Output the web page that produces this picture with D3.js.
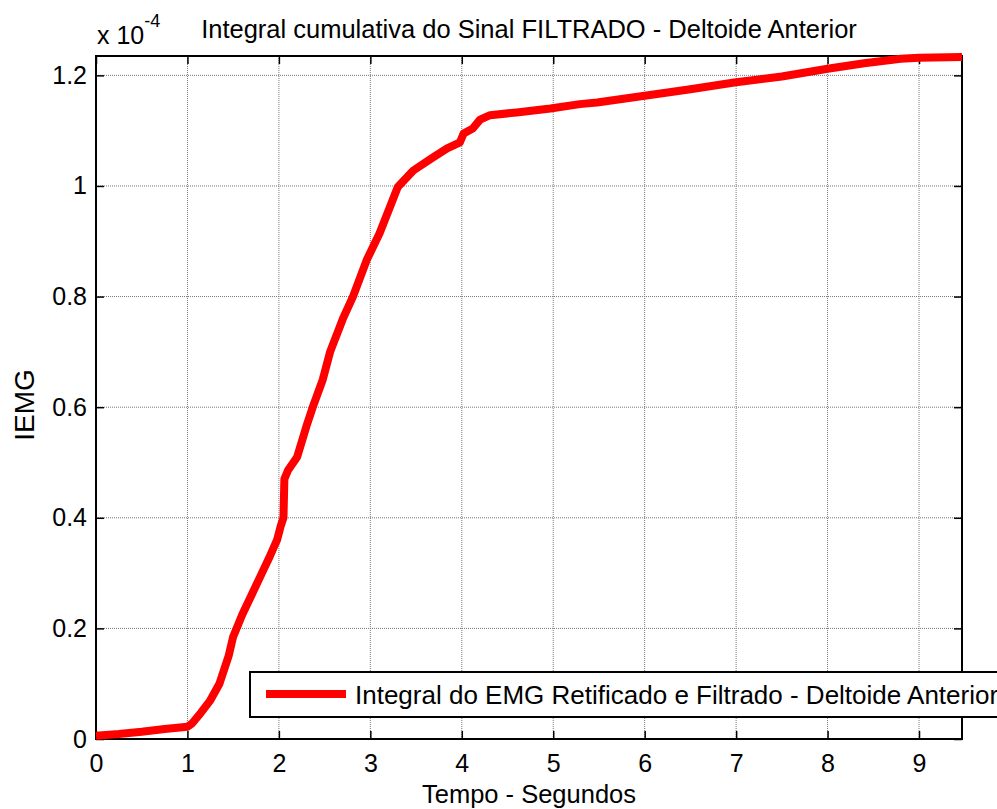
<!DOCTYPE html>
<html>
<head>
<meta charset="utf-8">
<script src="https://cdn.jsdelivr.net/npm/d3@7"></script>
<style>
    body { margin: 0; background: #fff; }
    text { font-family: Arial, "Liberation Sans", sans-serif; fill: #000; }
</style>
</head>
<body>
<script>

// Data (tempo in s, IEMG in units of 1e-4)
var tempo = [0, 0.25, 0.5, 0.75, 1.0, 1.05, 1.15, 1.25, 1.35, 1.45, 1.5, 1.6, 1.7, 1.8, 1.9,
    1.98, 2.02, 2.05, 2.06, 2.1, 2.2, 2.3, 2.37, 2.48, 2.56, 2.7, 2.81, 2.96, 3.1, 3.21,
    3.3, 3.47, 3.69, 3.84, 3.98, 4.02, 4.12, 4.2, 4.31, 4.6, 4.97, 5.29, 5.48, 6.0, 6.5,
    6.98, 7.5, 8.0, 8.4, 8.8, 9.0, 9.47];
var iemg = [0.006, 0.009, 0.013, 0.018, 0.022, 0.028, 0.048, 0.07, 0.1, 0.15, 0.185, 0.225, 0.26, 0.295, 0.33,
    0.36, 0.385, 0.40, 0.47, 0.486, 0.51, 0.565, 0.60, 0.65, 0.70, 0.76, 0.80, 0.866, 0.914, 0.96,
    0.998, 1.028, 1.052, 1.068, 1.079, 1.095, 1.104, 1.12, 1.128, 1.133, 1.14, 1.148, 1.151, 1.163, 1.175,
    1.187, 1.198, 1.212, 1.222, 1.23, 1.232, 1.233];

var xTicks = [0, 1, 2, 3, 4, 5, 6, 7, 8, 9];
var yTicks = [0, 0.2, 0.4, 0.6, 0.8, 1, 1.2];

var titleText = "Integral cumulativa do Sinal FILTRADO - Deltoide Anterior";
var legendText = "Integral do EMG Retificado e Filtrado - Deltoide Anterior";
var xLabel = "Tempo - Segundos";
var yLabel = "IEMG";

////////////////////////////
// SVG viewport and scales
var width = 997, height = 809;
var plotLeft = 96, plotRight = 962, plotTop = 56, plotBottom = 739;

var svg = d3.select("body").append("svg")
    .attr("width", width)
    .attr("height", height);

var x = d3.scaleLinear().domain([0, 9.47]).range([plotLeft, plotRight]);
var y = d3.scaleLinear().domain([0, 1.235]).range([plotBottom, plotTop]);

////////////////////////////
// Grid (dotted)
svg.selectAll("line.gx")
    .data(xTicks.slice(1))
    .enter().append("line")
    .attr("x1", function(d) { return x(d); })
    .attr("x2", function(d) { return x(d); })
    .attr("y1", plotTop).attr("y2", plotBottom)
    .attr("stroke", "#777").attr("stroke-width", 1)
    .attr("stroke-dasharray", "1,1");

svg.selectAll("line.gy")
    .data(yTicks.slice(1))
    .enter().append("line")
    .attr("x1", plotLeft).attr("x2", plotRight)
    .attr("y1", function(d) { return y(d); })
    .attr("y2", function(d) { return y(d); })
    .attr("stroke", "#777").attr("stroke-width", 1)
    .attr("stroke-dasharray", "1,1");

////////////////////////////
// Axes: ticks inside on all four sides
var tickLen = 8;
var fontStack = "Arial, 'Liberation Sans', sans-serif";

svg.append("g")
    .attr("transform", "translate(0," + plotBottom + ")")
    .call(d3.axisBottom(x).tickValues(xTicks).tickSize(-tickLen).tickPadding(15).tickFormat(d3.format("d")))
    .call(function(g) { g.select(".domain").remove(); })
    .selectAll("text").attr("font-size", "25px").attr("font-family", fontStack);

svg.append("g")
    .attr("transform", "translate(0," + plotTop + ")")
    .call(d3.axisTop(x).tickValues(xTicks).tickSize(-tickLen).tickFormat(""))
    .call(function(g) { g.select(".domain").remove(); });

svg.append("g")
    .attr("transform", "translate(" + plotLeft + ",0)")
    .call(d3.axisLeft(y).tickValues(yTicks).tickSize(-tickLen).tickPadding(9)
        .tickFormat(function(d) { return d === 0 ? "0" : (d === 1 ? "1" : d3.format(".1f")(d)); }))
    .call(function(g) { g.select(".domain").remove(); })
    .selectAll("text").attr("font-size", "25px").attr("font-family", fontStack);

svg.append("g")
    .attr("transform", "translate(" + plotRight + ",0)")
    .call(d3.axisRight(y).tickValues(yTicks).tickSize(-tickLen).tickFormat(""))
    .call(function(g) { g.select(".domain").remove(); });

svg.selectAll(".tick line").attr("stroke", "#000").attr("stroke-width", 1.5);

// Box around the axes
svg.append("rect")
    .attr("x", plotLeft).attr("y", plotTop)
    .attr("width", plotRight - plotLeft).attr("height", plotBottom - plotTop)
    .attr("fill", "none").attr("stroke", "#000").attr("stroke-width", 2);

////////////////////////////
// Curve
var line = d3.line()
    .x(function(d, i) { return x(tempo[i]); })
    .y(function(d) { return y(d); });

svg.append("path")
    .datum(iemg)
    .attr("d", line)
    .attr("fill", "none")
    .attr("stroke", "#ff0000")
    .attr("stroke-width", 8)
    .attr("stroke-linejoin", "round");

////////////////////////////
// Legend
var legend = svg.append("g");
legend.append("rect")
    .attr("x", 250).attr("y", 672)
    .attr("width", 760).attr("height", 45)
    .attr("fill", "#fff").attr("stroke", "#000").attr("stroke-width", 2);
legend.append("line")
    .attr("x1", 266).attr("x2", 346)
    .attr("y1", 694).attr("y2", 694)
    .attr("stroke", "#ff0000").attr("stroke-width", 8);
legend.append("text")
    .attr("x", 355).attr("y", 704)
    .attr("font-size", "26px")
    .text(legendText);

////////////////////////////
// Titles and labels
svg.append("text")
    .attr("x", (plotLeft + plotRight) / 2).attr("y", 38)
    .attr("text-anchor", "middle")
    .attr("font-size", "25.5px")
    .text(titleText);

var expo = svg.append("text")
    .attr("x", 97).attr("y", 44)
    .attr("font-size", "25px");
expo.append("tspan").text("x 10");
expo.append("tspan").attr("dy", -17).attr("font-size", "18px").text("-4");

svg.append("text")
    .attr("x", (plotLeft + plotRight) / 2).attr("y", 803)
    .attr("text-anchor", "middle")
    .attr("font-size", "25.5px")
    .text(xLabel);

svg.append("text")
    .attr("transform", "translate(34,405) rotate(-90)")
    .attr("text-anchor", "middle")
    .attr("font-size", "28px")
    .text(yLabel);

</script>
</body>
</html>
